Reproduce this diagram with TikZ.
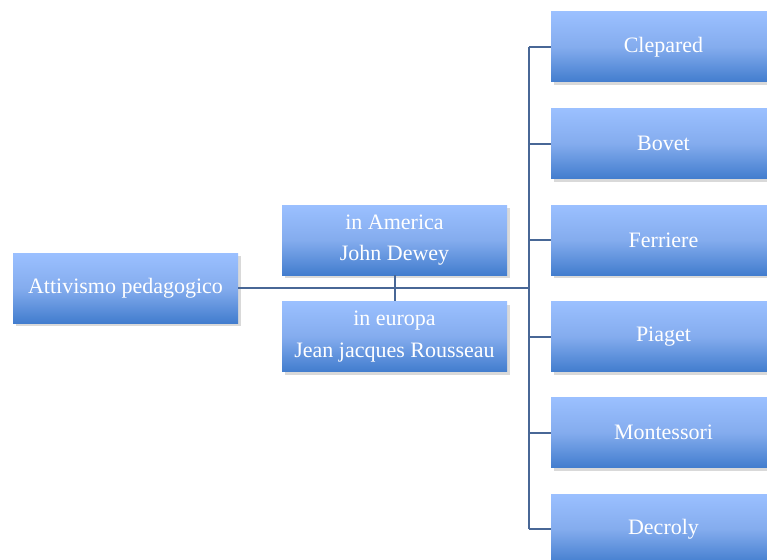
\documentclass[tikz,border=0pt]{standalone}
\usepackage{fontspec}
\setmainfont{Liberation Serif}
\usepackage{tikz}
\usetikzlibrary{positioning,shadows}
\usepackage{xcolor}
\definecolor{boxtop}{RGB}{155,192,255}
\definecolor{boxmid}{RGB}{132,172,238}
\definecolor{boxbot}{RGB}{66,125,206}
\definecolor{linkblue}{RGB}{72,103,150}

\begin{document}
\begin{tikzpicture}[x=1pt,y=-1pt,
topicbox/.style={minimum width=225pt,minimum height=70pt,inner sep=0pt,
top color=boxtop,bottom color=boxbot,middle color=boxmid,text=white,
font=\fontsize{22}{31.5}\selectfont,align=center,
drop shadow={opacity=0.3,shadow xshift=2.5pt,shadow yshift=-3pt}},
link/.style={draw=linkblue,line width=2pt}]
\useasboundingbox (0,0) rectangle (767,559);

% left part
\node[topicbox] (attivismo) at (125.5,288) {Attivismo pedagogico};
\node[topicbox] (america) at (394.5,240) {in America\\John Dewey};
\node[topicbox] (europa) at (394.5,336.5) {in europa\\Jean jacques Rousseau};

% right column
\node[topicbox] (clepared) at (663.5,47) {Clepared};
\node[topicbox] (bovet) at (663.5,143.5) {Bovet};
\node[topicbox] (ferriere) at (663.5,240) {Ferriere};
\node[topicbox] (piaget) at (663.5,336.5) {Piaget};
\node[topicbox] (montessori) at (663.5,432.5) {Montessori};
\node[topicbox] (decroly) at (663.5,529) {Decroly};

% connectors
\coordinate (fork) at (529,288);
\draw[link] (attivismo.east) -- (fork);
\draw[link] (america.south) -- (europa.north);
\draw[link] (fork |- clepared) -- (fork |- decroly);
\foreach \n in {clepared,bovet,ferriere,piaget,montessori,decroly}
  \draw[link] (fork |- \n) -- (\n.west);
\end{tikzpicture}
\end{document}
